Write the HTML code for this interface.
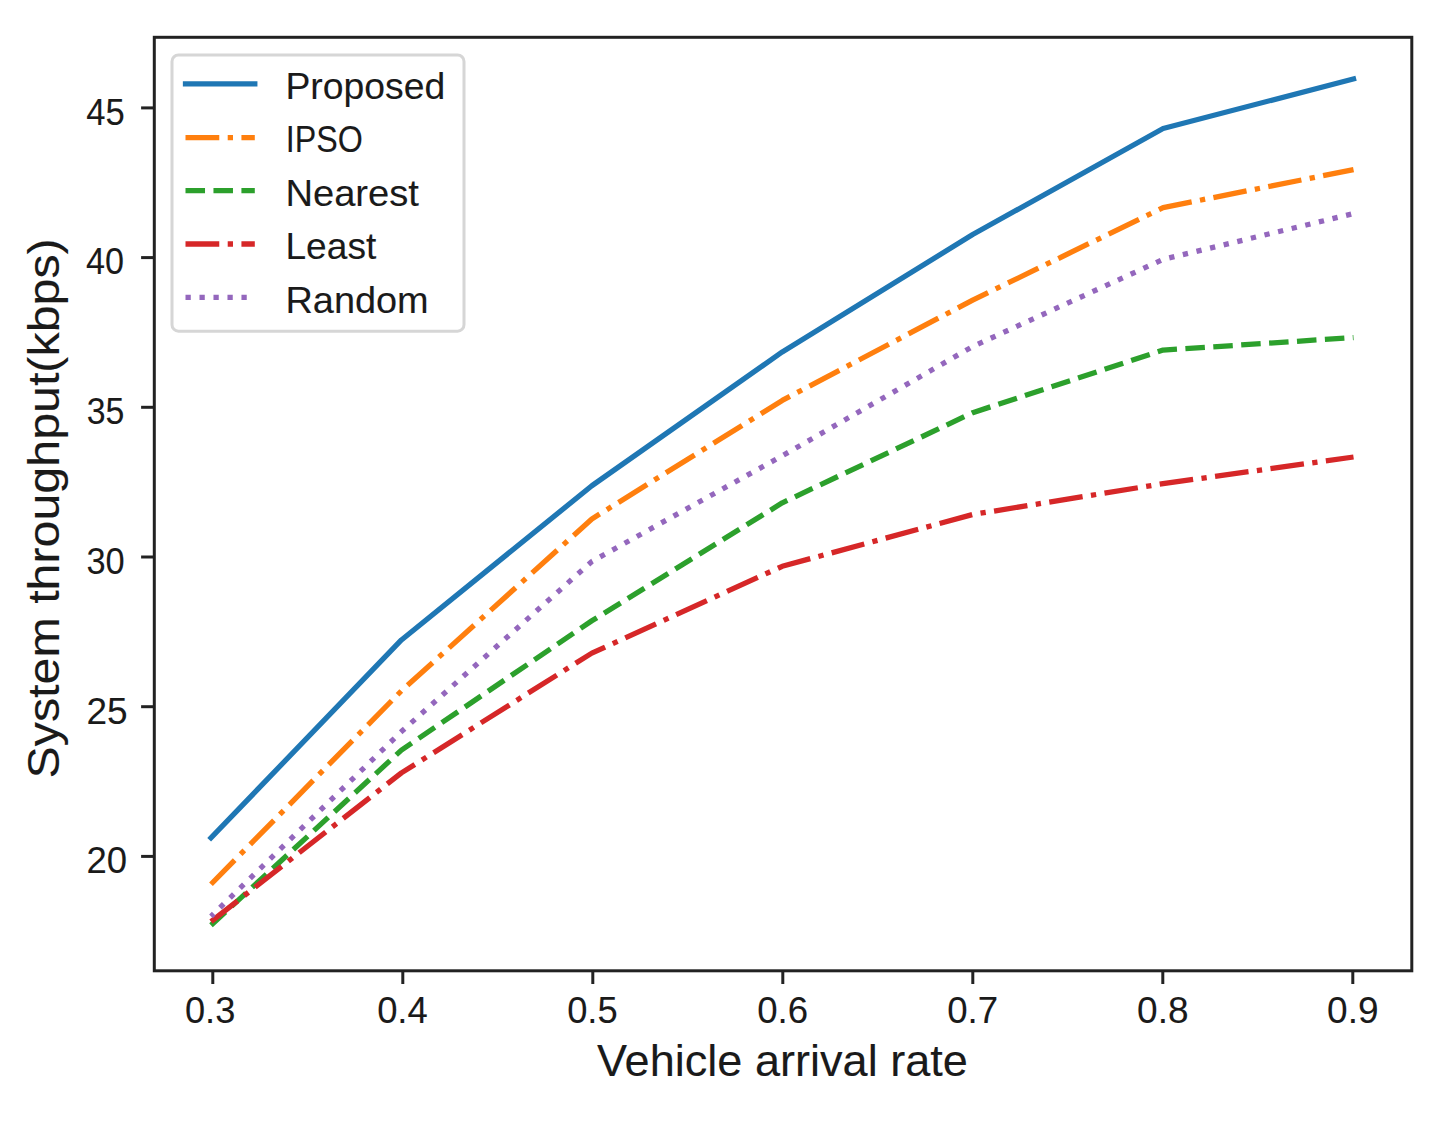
<!DOCTYPE html><html><head><meta charset="utf-8"><title>System throughput vs vehicle arrival rate</title><style>
html,body{margin:0;padding:0;background:#fff;}
body{width:1441px;height:1122px;overflow:hidden;}
svg{display:block;font-family:"Liberation Sans",sans-serif;}
</style></head><body>
<svg width="1441" height="1122" viewBox="0 0 1441 1122">
<rect x="0" y="0" width="1441" height="1122" fill="#fff"/>
<g>
<g id="lines">
<polyline points="211,837.84 401.42,639.93 591.84,485.74 782.26,351.91 972.68,234.55 1163.1,128.56 1353.52,78.86" fill="none" stroke="#1f77b4" stroke-width="5.28" stroke-linecap="square" stroke-linejoin="round"/>
<polyline points="211,884.24 401.42,690.83 591.84,518.98 782.26,400.41 972.68,300.11 1163.1,207.6 1353.52,169.58" fill="none" stroke="#ff7f0e" stroke-width="5.28" stroke-linecap="butt" stroke-linejoin="round" stroke-dasharray="33.77,8.44,5.28,8.44"/>
<polyline points="211,925.26 401.42,750.11 591.84,620.77 782.26,502.81 972.68,412.69 1163.1,350.11 1353.52,337.54" fill="none" stroke="#2ca02c" stroke-width="5.28" stroke-linecap="butt" stroke-linejoin="round" stroke-dasharray="19.52,8.44"/>
<polyline points="211,921.67 401.42,772.87 591.84,653.11 782.26,566.28 972.68,514.49 1163.1,483.65 1353.52,457" fill="none" stroke="#d62728" stroke-width="5.28" stroke-linecap="butt" stroke-linejoin="round" stroke-dasharray="33.77,8.44,5.28,8.44"/>
<polyline points="211,916.28 401.42,731.55 591.84,561.49 782.26,455.8 972.68,346.52 1163.1,259.4 1353.52,213.59" fill="none" stroke="#9467bd" stroke-width="5.28" stroke-linecap="butt" stroke-linejoin="round" stroke-dasharray="5.28,8.71" stroke-dashoffset="1.5"/>
</g>
<rect x="154.3" y="37.3" width="1257.5" height="933.5" fill="none" stroke="#222" stroke-width="3.0" stroke-linejoin="miter"/>
<g stroke="#222" stroke-width="3.0">
<line x1="212.8" y1="970.8" x2="212.8" y2="984"/>
<line x1="402.8" y1="970.8" x2="402.8" y2="984"/>
<line x1="592.8" y1="970.8" x2="592.8" y2="984"/>
<line x1="782.8" y1="970.8" x2="782.8" y2="984"/>
<line x1="972.8" y1="970.8" x2="972.8" y2="984"/>
<line x1="1162.8" y1="970.8" x2="1162.8" y2="984"/>
<line x1="1352.8" y1="970.8" x2="1352.8" y2="984"/>
<line x1="154.3" y1="856.4" x2="141.1" y2="856.4"/>
<line x1="154.3" y1="706.7" x2="141.1" y2="706.7"/>
<line x1="154.3" y1="557" x2="141.1" y2="557"/>
<line x1="154.3" y1="407.3" x2="141.1" y2="407.3"/>
<line x1="154.3" y1="257.6" x2="141.1" y2="257.6"/>
<line x1="154.3" y1="107.9" x2="141.1" y2="107.9"/>
</g>
<g fill="#1a1a1a" stroke="#1a1a1a" stroke-width="0.1">
<text x="184.94" y="1023.0" font-size="37.6" textLength="50.37" lengthAdjust="spacingAndGlyphs">0.3</text>
<text x="377.13" y="1023.0" font-size="37.6" textLength="50.61" lengthAdjust="spacingAndGlyphs">0.4</text>
<text x="567.13" y="1023.0" font-size="37.6" textLength="50.47" lengthAdjust="spacingAndGlyphs">0.5</text>
<text x="757.13" y="1023.0" font-size="37.6" textLength="50.89" lengthAdjust="spacingAndGlyphs">0.6</text>
<text x="947.13" y="1023.0" font-size="37.6" textLength="50.89" lengthAdjust="spacingAndGlyphs">0.7</text>
<text x="1137.12" y="1023.0" font-size="37.6" textLength="51.41" lengthAdjust="spacingAndGlyphs">0.8</text>
<text x="1327.12" y="1023.0" font-size="37.6" textLength="51.41" lengthAdjust="spacingAndGlyphs">0.9</text>
<text x="86.41" y="873.2" font-size="37.0" textLength="40.64" lengthAdjust="spacingAndGlyphs">20</text>
<text x="86.4" y="723.5" font-size="37.0" textLength="41.16" lengthAdjust="spacingAndGlyphs">25</text>
<text x="86.47" y="573.8" font-size="37.0" textLength="38.28" lengthAdjust="spacingAndGlyphs">30</text>
<text x="86.68" y="424.1" font-size="37.0" textLength="37.67" lengthAdjust="spacingAndGlyphs">35</text>
<text x="86.0" y="274.4" font-size="37.0" textLength="38.04" lengthAdjust="spacingAndGlyphs">40</text>
<text x="86.3" y="124.7" font-size="37.0" textLength="38.48" lengthAdjust="spacingAndGlyphs">45</text>
<text x="597.0" y="1075.6" font-size="43.5" textLength="370.87" lengthAdjust="spacingAndGlyphs">Vehicle arrival rate</text>
<text transform="translate(59.1,778.52) rotate(-90)" x="0" y="0" font-size="43.5" textLength="540.23" lengthAdjust="spacingAndGlyphs">System throughput(kbps)</text>
</g>
<rect x="172.0" y="55.0" width="292" height="276.2" rx="6.5" ry="6.5" fill="#fff" fill-opacity="0.8" stroke="#d6d6d6" stroke-width="3"/>
<line x1="185.5" y1="83.9" x2="254.8" y2="83.9" stroke="#1f77b4" stroke-width="5.28" stroke-linecap="square"/>
<line x1="185.5" y1="137.6" x2="254.8" y2="137.6" stroke="#ff7f0e" stroke-width="5.28" stroke-linecap="butt" stroke-dasharray="33.77,8.44,5.28,8.44"/>
<line x1="185.5" y1="190.6" x2="254.8" y2="190.6" stroke="#2ca02c" stroke-width="5.28" stroke-linecap="butt" stroke-dasharray="19.52,8.44"/>
<line x1="185.5" y1="244.0" x2="254.8" y2="244.0" stroke="#d62728" stroke-width="5.28" stroke-linecap="butt" stroke-dasharray="33.77,8.44,5.28,8.44"/>
<line x1="185.5" y1="297.3" x2="254.8" y2="297.3" stroke="#9467bd" stroke-width="5.28" stroke-linecap="butt" stroke-dasharray="5.28,8.71"/>
<g fill="#1a1a1a" stroke="#1a1a1a" stroke-width="0.1">
<text x="285.46" y="98.9" font-size="36.6" textLength="159.87" lengthAdjust="spacingAndGlyphs">Proposed</text>
<text x="285.74" y="152.3" font-size="36.6" textLength="77.03" lengthAdjust="spacingAndGlyphs">IPSO</text>
<text x="285.41" y="205.7" font-size="36.6" textLength="133.52" lengthAdjust="spacingAndGlyphs">Nearest</text>
<text x="285.47" y="259.1" font-size="36.6" textLength="90.81" lengthAdjust="spacingAndGlyphs">Least</text>
<text x="285.43" y="312.5" font-size="36.6" textLength="143.28" lengthAdjust="spacingAndGlyphs">Random</text>
</g>
</g>
</svg></body></html>
